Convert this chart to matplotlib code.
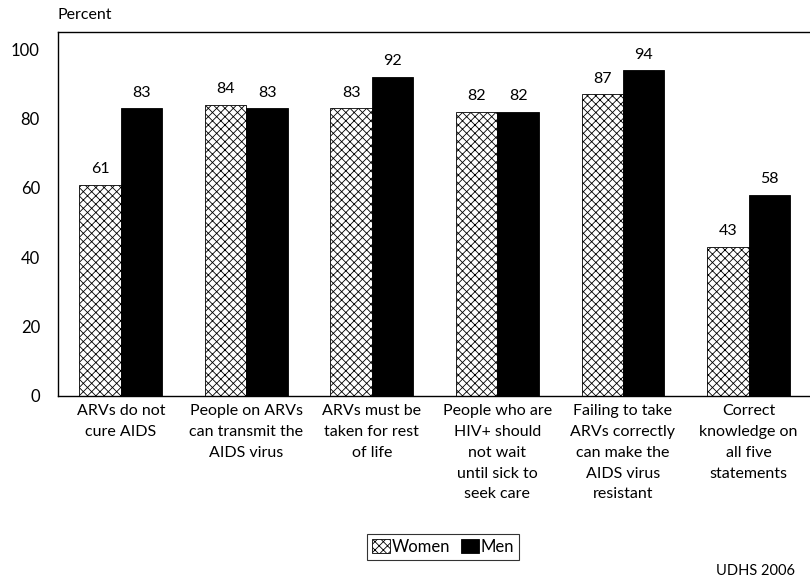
import matplotlib.pyplot as plt
import numpy as np

plt.rcParams['font.family'] = ['Lato', 'DejaVu Sans']
plt.rcParams['hatch.linewidth'] = 0.6

categories = [
    "ARVs do not\ncure AIDS",
    "People on ARVs\ncan transmit the\nAIDS virus",
    "ARVs must be\ntaken for rest\nof life",
    "People who are\nHIV+ should\nnot wait\nuntil sick to\nseek care",
    "Failing to take\nARVs correctly\ncan make the\nAIDS virus\nresistant",
    "Correct\nknowledge on\nall five\nstatements",
]
women = [61, 84, 83, 82, 87, 43]
men = [83, 83, 92, 82, 94, 58]
yticks = [0, 20, 40, 60, 80, 100]

fig = plt.figure(figsize=(8.1, 5.83), dpi=100)
ax = fig.add_axes([0.0716, 0.321, 0.93, 0.624])

x = np.arange(len(categories))
w = 0.33
bw = ax.bar(x - w / 2, women, w, color='white', edgecolor='black',
            hatch='xxxx', linewidth=0.6, label='Women')
bm = ax.bar(x + w / 2, men, w, color='black', edgecolor='black',
            linewidth=0.6, label='Men')

for i in range(len(x)):
    ax.text(x[i] - w / 2, women[i] + 2.5, str(women[i]), ha='center',
            va='bottom', fontsize=11.5)
    ax.text(x[i] + w / 2, men[i] + 2.5, str(men[i]), ha='center',
            va='bottom', fontsize=11.5)

ax.set_xlim(-0.5, 5.5)
ax.set_ylim(0, 105)
ax.set_yticks(yticks)
ax.set_yticklabels([str(t) for t in yticks], fontsize=12)
ax.set_xticks(x)
ax.set_xticklabels(categories, fontsize=11.5, linespacing=1.62, va='top')
ax.tick_params(length=0)
ax.tick_params(axis='y', pad=13)
ax.tick_params(axis='x', pad=6)
ax.spines['right'].set_visible(False)
for s in ['left', 'top', 'bottom']:
    ax.spines[s].set_linewidth(1.0)

fig.text(0.071, 0.962, 'Percent', fontsize=11.5, ha='left', va='bottom')
fig.text(0.982, 0.008, 'UDHS 2006', fontsize=10.5, ha='right', va='bottom')

leg = fig.legend(handles=[bw, bm], loc='center', bbox_to_anchor=(0.547, 0.062),
                 ncol=2, frameon=True, fancybox=False, fontsize=12,
                 handlelength=1.1, handleheight=0.9, handletextpad=0.1,
                 columnspacing=0.6, borderpad=0.3, borderaxespad=0)
leg.get_frame().set_edgecolor('black')
leg.get_frame().set_linewidth(0.8)

fig.savefig('out.png', dpi=100)
